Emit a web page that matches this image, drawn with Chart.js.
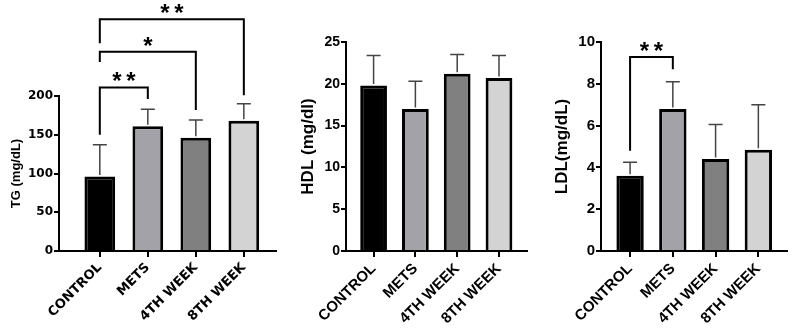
<!DOCTYPE html>
<html>
<head>
<meta charset="utf-8">
<script src="https://cdn.jsdelivr.net/npm/chart.js@4"></script>
<style>
  body { margin: 0; background: #fff; }
  #wrap { position: relative; width: 794px; height: 336px; overflow: hidden; }
  .panel { position: absolute; top: 0; height: 336px; }
</style>
</head>
<body>
<div id="wrap">
  <div class="panel" style="left:0;width:280px"><canvas id="tg"></canvas></div>
  <div class="panel" style="left:280px;width:250px"><canvas id="hdl"></canvas></div>
  <div class="panel" style="left:530px;width:264px"><canvas id="ldl"></canvas></div>
</div>
<script>
// groups
const categories = ['CONTROL', 'METS', '4TH WEEK', '8TH WEEK']
const barColors = ['#000000', '#a2a2a8', '#808080', '#d3d3d3']

// TG (mg/dL)
const tgMean = [96, 161, 146, 168]
const tgSd = [41, 22, 23, 22]
const tgTicks = [0, 50, 100, 150, 200]
// [from, to, bracket height, left leg end, right leg end, label]
const tgSig = [
  [0, 1, 211, 150, 196, '**'],
  [0, 2, 257, 244, 182, '*'],
  [0, 3, 299, 268, 201, '**']
]

// HDL (mg/dl)
const hdlMean = [19.8, 17.0, 21.2, 20.7]
const hdlSd = [3.6, 3.3, 2.3, 2.7]
const hdlTicks = [0, 5, 10, 15, 20, 25]

// LDL (mg/dL)
const ldlMean = [3.6, 6.8, 4.4, 4.85]
const ldlSd = [0.65, 1.3, 1.65, 2.15]
const ldlTicks = [0, 2, 4, 6, 8, 10]
const ldlSig = [
  [0, 1, 9.28, 4.8, 8.7, '**']
]

const sigPlugin = {
  id: 'sig',
  afterDatasetsDraw(chart, args, opts) {
    const ctx = chart.ctx
    const x = chart.scales.x, y = chart.scales.y
    ctx.save()
    // error bars (upper only)
    ctx.strokeStyle = '#444'
    ctx.lineWidth = 1.5
    opts.mean.forEach((m, i) => {
      const px = x.getPixelForValue(i)
      const top = y.getPixelForValue(m + opts.sd[i])
      ctx.beginPath()
      ctx.moveTo(px, y.getPixelForValue(m) - 1.5)
      ctx.lineTo(px, top)
      ctx.moveTo(px - 7, top)
      ctx.lineTo(px + 7, top)
      ctx.stroke()
    })
    // significance brackets
    ctx.strokeStyle = '#000'
    ctx.fillStyle = '#000'
    ctx.lineWidth = 2
    ctx.font = 'bold 24px "Liberation Sans", Arial, sans-serif'
    ctx.textAlign = 'center'
    ctx.textBaseline = 'alphabetic'
    ;(opts.sig || []).forEach(s => {
      const x1 = x.getPixelForValue(s[0]), x2 = x.getPixelForValue(s[1])
      const yb = y.getPixelForValue(s[2])
      ctx.beginPath()
      ctx.moveTo(x1, y.getPixelForValue(s[3]))
      ctx.lineTo(x1, yb)
      ctx.lineTo(x2, yb)
      ctx.lineTo(x2, y.getPixelForValue(s[4]))
      ctx.stroke()
      const cx = (x1 + x2) / 2
      const n = s[5].length
      for (let k = 0; k < n; k++) {
        ctx.fillText(s[5][k], cx + (k - (n - 1) / 2) * 14, yb + 2)
      }
    })
    ctx.restore()
  }
}

function makeChart(id, cfg) {
  const ctx = document.getElementById(id).getContext('2d')
  return new Chart(ctx, {
    type: 'bar',
    data: {
      datasets: [{
        data: cfg.mean.map((v, i) => ({ x: i, y: v })),
        backgroundColor: barColors,
        borderColor: '#000',
        borderWidth: 3,
        categoryPercentage: 1,
        barPercentage: 0.64
      }]
    },
    options: {
      responsive: true,
      maintainAspectRatio: false,
      animation: false,
      layout: { padding: { top: cfg.top, right: cfg.right, left: 0, bottom: 0 } },
      plugins: {
        legend: { display: false },
        tooltip: { enabled: false },
        sig: { mean: cfg.mean, sd: cfg.sd, sig: cfg.sig }
      },
      scales: {
        x: {
          type: 'linear',
          offset: false,
          min: cfg.xmin,
          max: 3.67,
          afterFit: s => { s.height = 85 },
          afterBuildTicks: s => { s.ticks = categories.map((c, i) => ({ value: i })) },
          grid: { offset: false, drawOnChartArea: false, drawTicks: true, tickLength: 6, color: '#000', lineWidth: 2 },
          border: { color: '#000', width: 2 },
          ticks: {
            autoSkip: false,
            minRotation: 45,
            maxRotation: 45,
            padding: 3,
            color: '#000',
            font: cfg.xFont,
            callback: v => categories[v]
          }
        },
        y: {
          min: 0,
          max: cfg.ticks[cfg.ticks.length - 1],
          afterFit: s => { s.width = cfg.yWidth },
          afterBuildTicks: s => { s.ticks = cfg.ticks.map(v => ({ value: v })) },
          grid: { drawOnChartArea: false, drawTicks: true, tickLength: 5, color: '#000', lineWidth: 2 },
          border: { color: '#000', width: 2 },
          ticks: { padding: 1, color: '#000', font: cfg.yFont },
          title: {
            display: true,
            text: cfg.title,
            color: '#000',
            font: cfg.titleFont,
            padding: { top: cfg.titlePad, bottom: 0 }
          }
        }
      }
    },
    plugins: [sigPlugin]
  })
}

makeChart('tg', {
  mean: tgMean, sd: tgSd, sig: tgSig, ticks: tgTicks,
  title: 'TG (mg/dL)', top: 96, right: 4, xmin: -0.85, yWidth: 59, titlePad: 9,
  xFont: { family: '"DejaVu Sans", sans-serif', size: 13, weight: 'bold' },
  yFont: { family: '"DejaVu Sans", sans-serif', size: 12, weight: 'bold' },
  titleFont: { family: '"Liberation Sans", Arial, sans-serif', size: 13, weight: 'bold' }
})

makeChart('hdl', {
  mean: hdlMean, sd: hdlSd, ticks: hdlTicks,
  title: 'HDL (mg/dl)', top: 42, right: 3, xmin: -0.66, yWidth: 66, titlePad: 18,
  xFont: { family: '"Liberation Sans", Arial, sans-serif', size: 15, weight: 'bold' },
  yFont: { family: '"Liberation Sans", Arial, sans-serif', size: 14, weight: 'bold' },
  titleFont: { family: '"Liberation Sans", Arial, sans-serif', size: 17, weight: 'bold' }
})

makeChart('ldl', {
  mean: ldlMean, sd: ldlSd, sig: ldlSig, ticks: ldlTicks,
  title: 'LDL(mg/dL)', top: 42, right: 7, xmin: -0.68, yWidth: 71, titlePad: 22,
  xFont: { family: '"Liberation Sans", Arial, sans-serif', size: 15, weight: 'bold' },
  yFont: { family: '"Liberation Sans", Arial, sans-serif', size: 15, weight: 'bold' },
  titleFont: { family: '"Liberation Sans", Arial, sans-serif', size: 17, weight: 'bold' }
})
</script>
</body>
</html>
